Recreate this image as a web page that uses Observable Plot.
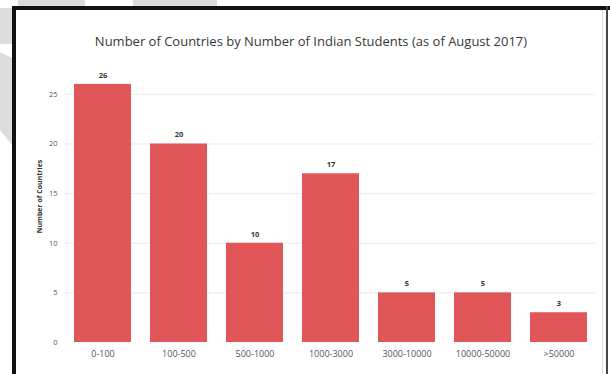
<!DOCTYPE html>
<html>
<head>
<meta charset="utf-8">
<script src="https://cdn.jsdelivr.net/npm/d3@7"></script>
<script src="https://cdn.jsdelivr.net/npm/@observablehq/plot@0.6"></script>
<style>
  html, body { margin: 0; padding: 0; background: #fff; width: 610px; height: 374px; overflow: hidden; }
  body { position: relative; font-family: "Open Sans", sans-serif; }
  .wm { position: absolute; background: #dcdcdc; z-index: 0; }
  .line { position: absolute; z-index: 10; }
  #panel { position: absolute; left: 16px; top: 10px; width: 590px; height: 364px; background: #fff; z-index: 1; }
  #title { position: absolute; left: 0; top: 33px; width: 622px; text-align: center; z-index: 2;
           font-size: 13px; line-height: 17px; color: #383838; }
  #chart { position: absolute; left: 0; top: 56px; z-index: 2; }
</style>
</head>
<body>
<div class="wm" style="left:18px;top:0;width:67px;height:6px;"></div>
<div class="wm" style="left:133px;top:0;width:84px;height:6px;"></div>
<div class="wm" style="left:0;top:8px;width:12px;height:36px;"></div>
<div class="wm" style="left:0;top:0;width:12px;height:160px;clip-path:polygon(0 52px,12px 58px,12px 145px,0 130px);"></div>
<div id="panel"></div>
<div class="line" style="left:12px;top:6px;width:4px;height:368px;background:#111;"></div>
<div class="line" style="left:12px;top:6px;width:598px;height:4px;background:#111;"></div>
<div class="line" style="left:606px;top:6px;width:2px;height:368px;background:#444;"></div>
<div class="line" style="left:602px;top:10px;width:1px;height:364px;background:#ddd;"></div>
<div id="title">Number of Countries by Number of Indian Students (as of August 2017)</div>
<div id="chart"></div>
<script>
const bins = ["0-100", "100-500", "500-1000", "1000-3000", "3000-10000", "10000-50000", ">50000"];
const counts = [26, 20, 10, 17, 5, 5, 3];
const yTicks = [0, 5, 10, 15, 20, 25];
const yLabel = "Number of Countries";

const data = bins.map((b, i) => ({bin: b, count: counts[i]}));

const chart = Plot.plot({
  width: 610,
  height: 318,
  marginLeft: 65,
  marginRight: 15,
  marginTop: 18,
  marginBottom: 32,
  style: {fontFamily: "Open Sans, sans-serif", background: "transparent", overflow: "visible"},
  x: {domain: bins, paddingInner: 0.25, paddingOuter: 0.105, label: null},
  y: {domain: [0, 27], label: null},
  marks: [
    Plot.gridY(yTicks.filter(t => t > 0), {stroke: "#ececec", strokeOpacity: 1}),
    Plot.barY(data, {x: "bin", y: "count", fill: "#e15759"}),
    Plot.text(data, {x: "bin", y: "count", text: d => String(d.count), dy: -9,
                     fontSize: 7.5, fontWeight: "bold", fill: "#333"}),
    Plot.axisX({tickSize: 0, tickPadding: 8, fontSize: 9, color: "#555", label: null}),
    Plot.axisY(yTicks, {tickSize: 0, tickPadding: 8, fontSize: 7.5, color: "#555", label: null}),
    Plot.text([yLabel], {frameAnchor: "left", textAnchor: "middle", dx: -26, dy: -12, rotate: -90,
                         fontSize: 7, fontWeight: "bold", fill: "#333"})
  ]
});
document.getElementById("chart").appendChild(chart);
</script>
</body>
</html>
